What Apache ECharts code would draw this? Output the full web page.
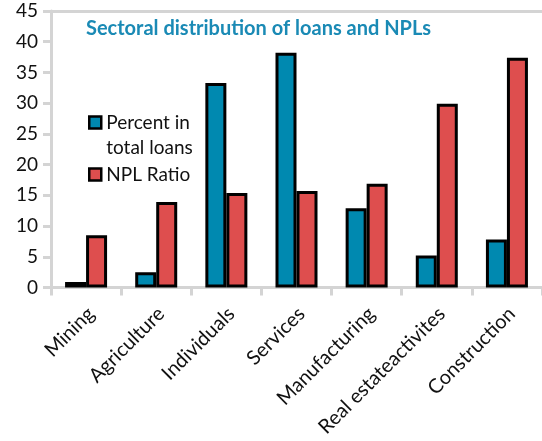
<!DOCTYPE html>
<html>
<head>
<meta charset="utf-8">
<script src="https://cdn.jsdelivr.net/npm/echarts@6/dist/echarts.min.js"></script>
<style>
html,body{margin:0;padding:0;background:#fff;}
#chart{width:542px;height:441px;}
</style>
</head>
<body>
<div id="chart"></div>
<script>
var categories = ['Mining','Agriculture','Individuals','Services','Manufacturing','Real estateactivites','Construction'];
var loansShare = [0.9, 2.5, 33.3, 38.2, 12.9, 5.2, 7.8];
var nplRatio = [8.5, 13.9, 15.4, 15.7, 16.9, 29.9, 37.4];
var yTicks = [0,5,10,15,20,25,30,35,40,45];
var titleText = 'Sectoral distribution of loans and NPLs';
var seriesNames = ['Percent in\ntotal loans', 'NPL Ratio'];

var FONT = 'Lato';
var legendBase = {
  orient:'vertical', left:83,
  itemWidth:12, itemHeight:12,
  icon:'rect',
  itemStyle:{borderColor:'#000', borderWidth:2.5},
  textStyle:{fontFamily:FONT, fontSize:19, color:'#111', lineHeight:25},
  formatter:function(name){ return name.indexOf('\n') >= 0 ? '\n' + name : name; }
};
var chart = echarts.init(document.getElementById('chart'), null, {renderer:'canvas'});
chart.setOption({
  animation:false,
  backgroundColor:'#fff',
  title:{
    text:titleText, left:81, top:14,
    textStyle:{fontFamily:FONT, fontSize:20, fontWeight:'bold', color:'#1a8ab5'}
  },
  legend:[
    Object.assign({}, legendBase, {top:80, data:[seriesNames[0]]}),
    Object.assign({}, legendBase, {top:157, data:[seriesNames[1]]})
  ],
  grid:{left:51, top:11, width:495, height:276.5, containLabel:false},
  xAxis:[{
    type:'category', data:categories,
    axisLine:{lineStyle:{color:'#d4d4d4', width:3}},
    axisTick:{show:true, length:8, lineStyle:{color:'#d4d4d4', width:3}},
    axisLabel:{rotate:45, margin:28, padding:[0,-7,0,0], fontFamily:FONT, fontSize:20, color:'#111', interval:0}
  },{
    type:'category', data:categories, position:'top',
    axisLine:{lineStyle:{color:'#d4d4d4', width:3}},
    axisTick:{show:false}, axisLabel:{show:false}
  }],
  yAxis:{
    type:'value', min:0, max:45, interval:5,
    axisLine:{show:true, lineStyle:{color:'#d4d4d4', width:3}},
    axisTick:{show:true, length:8, lineStyle:{color:'#d4d4d4', width:3}},
    splitLine:{show:false},
    axisLabel:{margin:13, fontFamily:FONT, fontSize:19, color:'#111'}
  },
  series:[{
    name:seriesNames[0], type:'bar', data:loansShare, barWidth:21, barGap:'0%',
    itemStyle:{color:'#0089b0', borderColor:'#000', borderWidth:3}
  },{
    name:seriesNames[1], type:'bar', data:nplRatio, barWidth:21, barGap:'0%',
    itemStyle:{color:'#de4e4e', borderColor:'#000', borderWidth:3}
  }]
});
</script>
</body>
</html>
